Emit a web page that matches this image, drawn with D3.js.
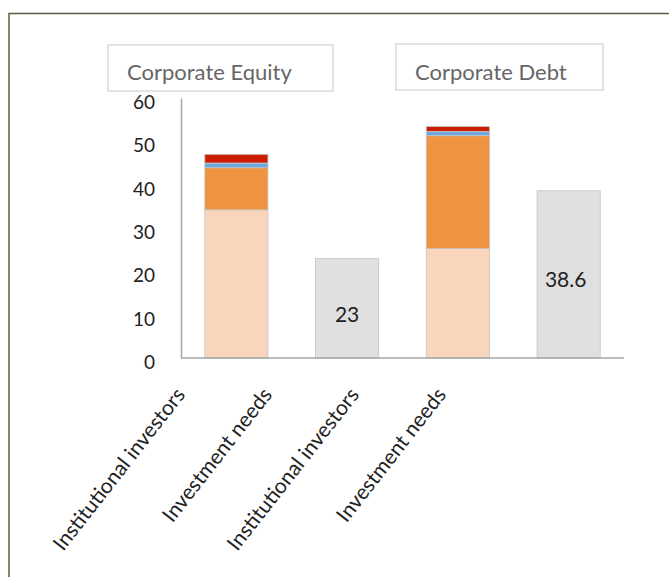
<!DOCTYPE html>
<html>
<head>
<meta charset="utf-8">
<script src="https://cdn.jsdelivr.net/npm/d3@7"></script>
<style>
  body { margin: 0; background: #fff; }
  text { font-family: Lato, "Open Sans", sans-serif; }
</style>
</head>
<body>
<svg id="chart" width="669" height="577"></svg>
<script>
// categories along the x axis
const categories = ["Institutional investors", "Investment needs", "Institutional investors", "Investment needs"];
const panels = ["Corporate Equity", "Corporate Debt"];

// stacked pieces for the institutional investor bars (bottom to top)
const layerNames = ["layer1", "layer2", "layer3", "layer4"];
const layerColors = ["#f9d5bb", "#f09341", "#6fa8dc", "#cc1d00"];
const equityInvestors = [34.2, 9.7, 1.1, 2.0];
const debtInvestors = [25.3, 26.0, 1.0, 1.1];

// investment needs
const needs = [23, 38.6];

const yTicks = [0, 10, 20, 30, 40, 50, 60];

const svg = d3.select("#chart");

// outer frame (top and left only)
svg.append("path")
    .attr("d", "M9,577 V13.5 H669")
    .attr("fill", "none")
    .attr("stroke", "#556040")
    .attr("stroke-width", 1.5);

const margin = {left: 181, right: 45, top: 98, bottom: 219};
const width = 669 - margin.left - margin.right;

const x = d3.scaleBand()
    .domain(d3.range(categories.length))
    .range([margin.left, margin.left + width])
    .paddingInner(0.43)
    .paddingOuter(0.215);

const y = d3.scaleLinear()
    .domain([0, 60])
    .range([358, 98]);

// build bar data
const bars = [];
[equityInvestors, debtInvestors].forEach((vals, p) => {
    let base = 0;
    vals.forEach((v, i) => {
        bars.push({cat: p * 2, y0: base, y1: base + v, color: layerColors[i]});
        base += v;
    });
    bars.push({cat: p * 2 + 1, y0: 0, y1: needs[p], color: "#e0e0e0", label: needs[p]});
});

svg.selectAll(".bar")
    .data(bars)
    .enter()
    .append("rect")
    .attr("class", "bar")
    .attr("x", d => x(d.cat))
    .attr("width", x.bandwidth())
    .attr("y", d => y(d.y1))
    .attr("height", d => y(d.y0) - y(d.y1))
    .attr("fill", d => d.color)
    .attr("stroke", "#c4c4c4")
    .attr("stroke-width", 0.8);

// value labels inside the needs bars
svg.selectAll(".vlabel")
    .data(bars.filter(d => d.label !== undefined))
    .enter()
    .append("text")
    .attr("class", "vlabel")
    .attr("x", d => x(d.cat) + x.bandwidth() / 2 - (d.label > 30 ? 3 : 0))
    .attr("y", d => d.label > 30 ? y(d.y1) + 96 : y(d.y1) + 64)
    .attr("text-anchor", "middle")
    .attr("font-size", 21)
    .attr("fill", "#222")
    .text(d => d.label);

// y axis
const yAxis = d3.axisLeft(y).tickValues(yTicks).tickSize(0).tickPadding(26);
const gy = svg.append("g")
    .attr("transform", `translate(${margin.left},0)`)
    .call(yAxis);
gy.select(".domain").attr("stroke", "#a6a6a6").attr("stroke-width", 1.5);
gy.selectAll("text")
    .attr("font-size", 19)
    .attr("fill", "#222")
    .attr("dy", "0.55em")
    .attr("font-family", "Lato, sans-serif");

// baseline
svg.append("line")
    .attr("x1", margin.left)
    .attr("x2", 624)
    .attr("y1", y(0))
    .attr("y2", y(0))
    .attr("stroke", "#a6a6a6")
    .attr("stroke-width", 1.5);

// rotated category labels
const xl = d3.scalePoint()
    .domain(d3.range(categories.length))
    .range([186, 447]);

svg.selectAll(".clabel")
    .data(categories)
    .enter()
    .append("text")
    .attr("class", "clabel")
    .attr("transform", (d, i) => `translate(${xl(i)},${395}) rotate(-52)`)
    .attr("text-anchor", "end")
    .attr("font-size", 21)
    .attr("fill", "#222")
    .text(d => d);

// panel titles in boxes
const boxes = [
    {x: 108, y: 45, w: 225, h: 46},
    {x: 396, y: 44, w: 207, h: 46}
];
panels.forEach((t, i) => {
    const b = boxes[i];
    svg.append("rect")
        .attr("x", b.x).attr("y", b.y)
        .attr("width", b.w).attr("height", b.h)
        .attr("fill", "#fff")
        .attr("stroke", "#c8c8c8")
        .attr("stroke-width", 1);
    svg.append("text")
        .attr("x", b.x + 19)
        .attr("y", 80)
        .attr("font-size", 22)
        .attr("fill", "#666")
        .text(t);
});
</script>
</body>
</html>
